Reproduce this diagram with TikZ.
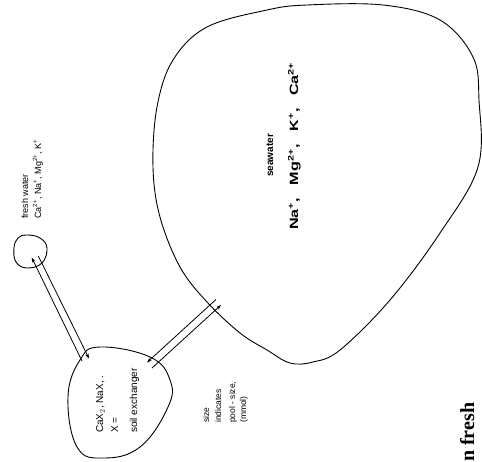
\documentclass[tikz,border=0pt]{standalone}
\usepackage{fontspec}
\setmainfont{Liberation Serif}
\setsansfont{Liberation Sans}
\usetikzlibrary{arrows.meta}

\begin{document}
\begin{tikzpicture}[x=1pt,y=-1pt,
  outline/.style={draw=black, line width=0.9pt},
  flux/.style={draw=black, line width=0.8pt},
  fluxtip/.style={flux, -{Stealth[length=5pt,width=3.5pt]}},
  vtext/.style={rotate=90, anchor=base west, inner sep=0pt, font=\sffamily\fontsize{9}{10}\selectfont},
  vsmall/.style={vtext, font=\sffamily\fontsize{8.5}{10}\selectfont},
  vsoil/.style={vtext, font=\sffamily\fontsize{10}{12}\selectfont},
  vsea/.style={vtext, font=\sffamily\bfseries\fontsize{10}{12}\selectfont},
  vions/.style={vtext, font=\sffamily\bfseries\fontsize{12}{14}\selectfont},
  vtitle/.style={vtext, font=\rmfamily\bfseries\fontsize{20}{24}\selectfont},
  ]
\useasboundingbox (0,0) rectangle (482,461);

% reservoirs
\draw[outline] plot[smooth cycle, tension=0.6] coordinates {
  (207,27) (267,10) (307,5) (383,5) (440,20) (473,57) (479,100) (478,167)
  (440,233) (390,300) (340,350) (313,362) (290,363) (267,350) (240,333)
  (207,302) (180,267) (160,217) (153,167) (157,107) (173,60)};
\draw[outline] plot[smooth cycle, tension=0.7] coordinates {
  (100,347) (150,357) (170,380) (168,407) (140,447) (103,458) (77,447)
  (68,397) (80,360)};
\draw[outline] plot[smooth cycle, tension=0.7] coordinates {
  (27,235) (40,238) (47,248) (42,263) (27,268) (16,262) (14,248) (18,238)};

% end points of the exchange fluxes
\coordinate (fwA) at (31.7,257.5);
\coordinate (soA) at (82.0,361.0);
\coordinate (fwB) at (38.3,256.0);
\coordinate (soB) at (89.0,358.5);
\coordinate (soC) at (147.0,362.5);
\coordinate (swC) at (216.0,299.5);
\coordinate (soD) at (152.0,368.0);
\coordinate (swD) at (221.0,305.0);

% fresh water <-> soil exchanger
\draw[fluxtip] (soA) -- (fwA);
\draw[fluxtip] (fwB) -- (soB);
% seawater <-> soil exchanger
\draw[fluxtip] (swC) -- (soC);
\draw[fluxtip] (soD) -- (swD);

% labels
\node[vtext] (fw1) at (28,219) {fresh water};
\node[vtext] (fw2) at (41,219) {Ca\textsuperscript{2+}, Na\textsuperscript{+}, Mg\textsuperscript{2+}, K\textsuperscript{+}};

\node[vsoil] (so1) at (103,433) {CaX$_2$, NaX, .};
\node[vsoil] (so2) at (118,433) {X =};
\node[vsoil] (so3) at (137,433) {soil exchanger};

\node[vsmall] (sz1) at (209,423) {size};
\node[vsmall] (sz2) at (221,423) {indicates};
\node[vsmall] (sz3) at (235,423) {pool - size,};
\node[vsmall] (sz4) at (246,423) {(mmol)};

\node[vsea] (sw1) at (273,177) {seawater};
\node[vions] (sw2) at (298,230) {\scalebox{1.35}[1]{Na\textsuperscript{+},\hspace{6pt} Mg\textsuperscript{2+},\hspace{6pt} K\textsuperscript{+},\hspace{6pt} Ca\textsuperscript{2+}}};

\node[vtitle] (ttl) at (474,462) {n fresh};
\end{tikzpicture}
\end{document}
